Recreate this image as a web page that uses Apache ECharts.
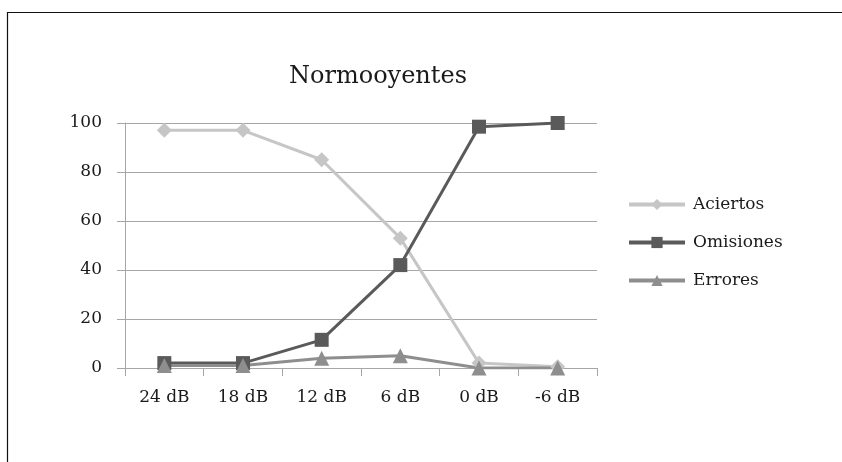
<!DOCTYPE html>
<html>
<head>
<meta charset="utf-8">
<style>
  html, body { margin: 0; padding: 0; background: #ffffff; }
  #chart { width: 842px; height: 462px; }
</style>
<script src="https://cdn.jsdelivr.net/npm/echarts@6/dist/echarts.min.js"></script>
</head>
<body>
<div id="chart"></div>
<script>
// Signal level categories (x axis)
const categories = ['24 dB', '18 dB', '12 dB', '6 dB', '0 dB', '-6 dB'];

// Percentages per response type
const aciertos  = [97, 97, 85, 53, 2, 0.5];
const omisiones = [2, 2, 11.5, 42, 98.5, 100];
const errores   = [1, 1, 4, 5, 0, 0];

// Y axis scale
const yMin = 0, yMax = 100, yStep = 20;

const chartTitle = 'Normooyentes';
const FONT = 'DejaVu Serif';

const chart = echarts.init(document.getElementById('chart'), null, { renderer: 'canvas' });

function lineSeries(name, data, color, symbol, size) {
  return {
    name: name,
    type: 'line',
    data: data,
    symbol: symbol,
    symbolSize: size,
    lineStyle: { color: color, width: 3 },
    itemStyle: { color: color },
    emphasis: { disabled: true },
    animation: false
  };
}

chart.setOption({
  backgroundColor: '#ffffff',
  animation: false,
  title: {
    text: chartTitle,
    left: 373,
    top: 60,
    textAlign: 'center',
    textStyle: { fontFamily: FONT, fontSize: 24, fontWeight: 'normal', color: '#1a1a1a' }
  },
  legend: {
    orient: 'vertical',
    left: 622,
    top: 191,
    itemWidth: 56,
    itemHeight: 14,
    itemGap: 21,
    lineStyle: { width: 4 },
    textStyle: { fontFamily: FONT, fontSize: 17, color: '#1a1a1a', padding: [0, 0, 0, 3] },
    data: ['Aciertos', 'Omisiones', 'Errores']
  },
  grid: { left: 125, right: 245, top: 123, bottom: 94, containLabel: false },
  xAxis: {
    type: 'category',
    data: categories,
    boundaryGap: true,
    axisLine: { lineStyle: { color: '#a6a6a6', width: 1 } },
    axisTick: { show: true, length: 8, alignWithLabel: false, lineStyle: { color: '#a6a6a6' } },
    axisLabel: { fontFamily: FONT, fontSize: 17, color: '#1a1a1a', margin: 21 },
    splitLine: { show: false }
  },
  yAxis: {
    type: 'value',
    min: yMin,
    max: yMax,
    interval: yStep,
    axisLine: { show: true, lineStyle: { color: '#a6a6a6', width: 1 } },
    axisTick: { show: true, length: 8, lineStyle: { color: '#a6a6a6' } },
    axisLabel: { fontFamily: FONT, fontSize: 17, color: '#1a1a1a', margin: 23 },
    splitLine: { show: true, lineStyle: { color: '#a6a6a6', width: 1 } }
  },
  graphic: [{
    type: 'rect',
    left: 5, top: 10,
    shape: { x: 0, y: 0, width: 900, height: 500 },
    style: { fill: 'none', stroke: '#111111', lineWidth: 1.2 },
    silent: true
  }],
  series: [
    lineSeries('Aciertos', aciertos, '#c6c6c6', 'diamond', 15),
    lineSeries('Omisiones', omisiones, '#5a5a5a', 'rect', 14),
    lineSeries('Errores', errores, '#8e8e8e', 'triangle', 15)
  ]
});
</script>
</body>
</html>
